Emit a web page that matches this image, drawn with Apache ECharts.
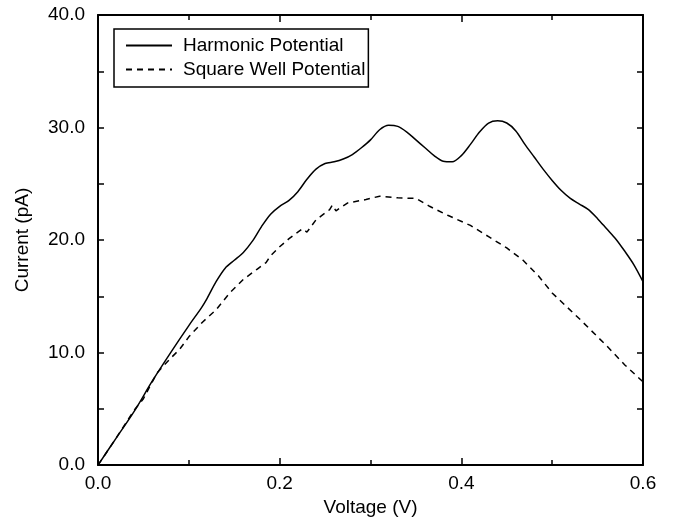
<!DOCTYPE html>
<html><head><meta charset="utf-8">
<script src="https://cdn.jsdelivr.net/npm/echarts@6/dist/echarts.min.js"></script>
<style>html,body{margin:0;padding:0;background:#fff}#c{width:674px;height:522px}</style>
</head><body><div id="c"></div>
<script>
const harmonicV = [0,0.02,0.04,0.06,0.08,0.10,0.114,0.12,0.13,0.14,0.15,0.16,0.17,0.18,0.19,0.20,0.21,0.22,0.23,0.24,0.25,0.26,0.27,0.28,0.29,0.30,0.31,0.32,0.33,0.34,0.35,0.36,0.37,0.38,0.39,0.40,0.41,0.42,0.43,0.44,0.45,0.46,0.47,0.48,0.49,0.50,0.51,0.52,0.53,0.54,0.55,0.56,0.57,0.58,0.59,0.60];
const harmonicI = [0,2.4,4.8,7.5,10.0,12.4,14.0,14.8,16.3,17.5,18.2,18.9,19.9,21.2,22.3,23.0,23.5,24.3,25.4,26.3,26.8,26.95,27.2,27.6,28.2,28.9,29.8,30.2,30.1,29.6,28.9,28.2,27.5,27.0,26.95,27.5,28.5,29.6,30.4,30.6,30.4,29.7,28.5,27.4,26.3,25.3,24.4,23.7,23.2,22.7,21.9,21.0,20.1,19.0,17.8,16.3];
const squareV = [0,0.02,0.04,0.05,0.065,0.08,0.09,0.10,0.115,0.13,0.145,0.16,0.175,0.185,0.19,0.20,0.21,0.225,0.23,0.24,0.255,0.258,0.262,0.275,0.295,0.31,0.33,0.35,0.365,0.385,0.41,0.43,0.45,0.468,0.485,0.50,0.53,0.56,0.58,0.60];
const squareI = [0,2.4,4.9,5.9,8.2,9.5,10.3,11.4,12.7,13.8,15.3,16.5,17.4,18.0,18.6,19.4,20.1,21.0,20.7,21.8,22.7,23.1,22.6,23.3,23.6,23.9,23.75,23.7,23.0,22.2,21.3,20.3,19.3,18.2,16.8,15.3,13.0,10.6,8.9,7.4];
const seriesNames = ['Harmonic Potential','Square Well Potential'];
const xTicks = [0,0.2,0.4,0.6];
const yTicks = [0,10,20,30,40];

const font = 'Liberation Sans, Arial, sans-serif';
const FS = 19;
const pair = (xs, ys) => xs.map((x, i) => [x, ys[i]]);
const chart = echarts.init(document.getElementById('c'), null, {renderer:'canvas'});
const axisLineS = {show:true, onZero:false, lineStyle:{color:'#000', width:2}};
const tickX = {inside:true, length:7, lineStyle:{color:'#000', width:1.5}};
const minorX = {show:true, splitNumber:2, length:5, lineStyle:{color:'#000', width:1.5}};
const tickY = {inside:true, length:6, lineStyle:{color:'#000', width:1.5}};
const minorY = {show:true, splitNumber:2, length:6, lineStyle:{color:'#000', width:1.5}};
chart.setOption({
  animation:false,
  backgroundColor:'#fff',
  grid:{left:98, right:31, top:15, bottom:56, containLabel:false},
  legend:{
    orient:'vertical', left:114, top:29, padding:[7,3,8,11], itemGap:5,
    itemWidth:46, itemHeight:12, borderColor:'#000', borderWidth:1.5, borderRadius:0,
    itemStyle:{opacity:0},
    textStyle:{fontFamily:font, fontSize:FS, color:'#000', padding:[0,0,0,6]},
    data:seriesNames
  },
  xAxis:[{
    type:'value', min:0, max:0.6, interval:0.2,
    name:'Voltage (V)', nameLocation:'middle', nameGap:31,
    nameTextStyle:{fontFamily:font, fontSize:FS, color:'#000'},
    axisLine:axisLineS, axisTick:tickX, minorTick:minorX,
    splitLine:{show:false}, minorSplitLine:{show:false},
    axisLabel:{fontFamily:font, fontSize:FS, color:'#000', margin:9,
      formatter:v=>xTicks.includes(+(+v).toFixed(1)) ? (+v).toFixed(1) : ''}
  },{
    type:'value', min:0, max:0.6, interval:0.2, position:'top',
    axisLine:axisLineS, axisTick:tickX, minorTick:minorX,
    splitLine:{show:false}, axisLabel:{show:false}
  }],
  yAxis:[{
    type:'value', min:0, max:40, interval:10,
    name:'Current (pA)', nameLocation:'middle', nameGap:66, nameRotate:90,
    nameTextStyle:{fontFamily:font, fontSize:FS, color:'#000'},
    axisLine:axisLineS, axisTick:tickY, minorTick:minorY,
    splitLine:{show:false},
    axisLabel:{fontFamily:font, fontSize:FS, color:'#000', margin:13,
      formatter:v=>yTicks.includes(v) ? v.toFixed(1) : ''}
  },{
    type:'value', min:0, max:40, interval:10, position:'right',
    axisLine:axisLineS, axisTick:tickY, minorTick:minorY,
    splitLine:{show:false}, axisLabel:{show:false}
  }],
  series:[{
    name:seriesNames[0], type:'line', data:pair(harmonicV, harmonicI),
    smooth:0.3, symbol:'none', lineStyle:{color:'#000', width:1.5, type:'solid'},
    itemStyle:{color:'#000'}
  },{
    name:seriesNames[1], type:'line', data:pair(squareV, squareI),
    smooth:false, symbol:'none', lineStyle:{color:'#000', width:1.5, type:[6,5]},
    itemStyle:{color:'#000'}
  }]
});
</script></body></html>
